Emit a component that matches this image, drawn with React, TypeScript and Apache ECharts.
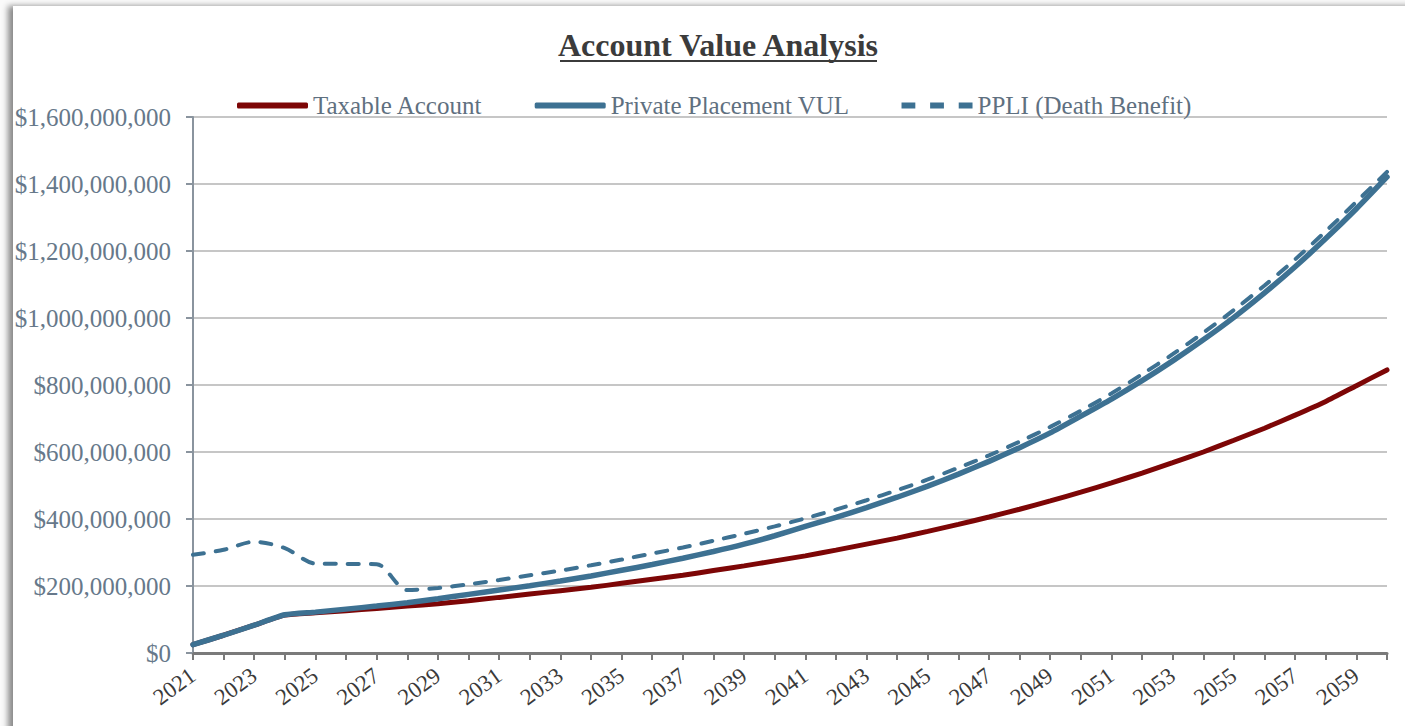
import React, { useEffect, useRef } from "react";
import * as echarts from "echarts";

const years = [
  "2021", "2022", "2023", "2024", "2025", "2026", "2027", "2028", "2029", "2030",
  "2031", "2032", "2033", "2034", "2035", "2036", "2037", "2038", "2039", "2040",
  "2041", "2042", "2043", "2044", "2045", "2046", "2047", "2048", "2049", "2050",
  "2051", "2052", "2053", "2054", "2055", "2056", "2057", "2058", "2059", "2060",
];

// values in $ millions
const taxableAccount = [
  25, 53, 83, 113, 120, 126, 133, 140, 147, 156,
  166, 176, 186, 196, 208, 220, 232, 246, 260, 275,
  290, 307, 325, 343, 363, 384, 406, 429, 454, 480,
  508, 537, 568, 600, 635, 671, 710, 751, 798, 845,
];

const privatePlacementVUL = [
  25, 53, 83, 114, 122, 131, 140, 150, 162, 175,
  188, 201, 215, 230, 247, 264, 283, 303, 325, 350,
  378, 405, 434, 465, 498, 534, 572, 613, 657, 707,
  758, 813, 872, 935, 1002, 1075, 1153, 1237, 1326, 1421,
];

const ppliDeathBenefit = [
  293, 308, 332, 313, 267, 266, 265, 188, 194, 205,
  218, 232, 246, 262, 279, 297, 315, 335, 356, 378,
  402, 428, 456, 486, 518, 553, 590, 631, 675, 723,
  775, 832, 892, 956, 1024, 1097, 1175, 1259, 1347, 1436,
];

const seriesNames = ["Taxable Account", "Private Placement VUL", "PPLI (Death Benefit)"];
const chartTitle = "Account Value Analysis";

const SERIF = "'Liberation Serif', 'DejaVu Serif', serif";
const RED = "#7d0606";
const BLUE = "#3d7192";
const DASH_ICON = "path://M0,0h14v6h-14z M29,0h14v6h-14z M58,0h14v6h-14z";

function fmtDollar(v: number): string {
  return "$" + Math.round(v).toLocaleString("en-US");
}

export default function App() {
  const ref = useRef<HTMLDivElement>(null);

  useEffect(() => {
    document.body.style.margin = "0";
    const chart = echarts.init(ref.current!, null, { renderer: "svg" });
    const toDollars = (arr: number[]) => arr.map((v) => v * 1e6);
    chart.setOption({
      animation: false,
      backgroundColor: "transparent",
      graphic: [
        {
          type: "text",
          x: 718,
          y: 45,
          style: {
            text: chartTitle,
            textAlign: "center",
            textVerticalAlign: "middle",
            fontFamily: SERIF,
            fontWeight: "bold",
            fontSize: 32,
            fill: "#3b3b3b",
          },
        },
        {
          type: "line",
          shape: { x1: 560, y1: 61, x2: 877, y2: 61 },
          style: { stroke: "#3b3b3b", lineWidth: 2 },
        },
      ],
      legend: {
        top: 88,
        left: 232,
        itemWidth: 71,
        itemHeight: 6,
        itemGap: 52,
        textStyle: { fontFamily: SERIF, fontSize: 25, color: "#5f7080", padding: [0, 0, 0, 0] },
        data: [
          { name: seriesNames[0], icon: "roundRect", itemStyle: { color: RED } },
          { name: seriesNames[1], icon: "roundRect", itemStyle: { color: BLUE } },
          { name: seriesNames[2], icon: DASH_ICON, itemStyle: { color: BLUE } },
        ],
      },
      grid: { left: 193, right: 18, top: 117, bottom: 73 },
      xAxis: {
        type: "category",
        data: years,
        boundaryGap: false,
        axisLine: { lineStyle: { color: "#7a7a7a", width: 3 } },
        axisTick: { show: true, interval: 0, length: 7, lineStyle: { color: "#7a7a7a", width: 2 } },
        axisLabel: {
          interval: 1,
          rotate: 36,
          margin: 20,
          fontFamily: SERIF,
          fontSize: 23,
          color: "#3a3a3a",
        },
        splitLine: { show: false },
      },
      yAxis: {
        type: "value",
        min: 0,
        max: 1600000000,
        interval: 200000000,
        axisLine: { show: true, lineStyle: { color: "#8a949e", width: 2 } },
        axisTick: { show: true, length: 7, lineStyle: { color: "#8a949e", width: 2 } },
        axisLabel: {
          margin: 22,
          fontFamily: SERIF,
          fontSize: 25,
          color: "#66788a",
          formatter: (v: number) => fmtDollar(v),
        },
        splitLine: { lineStyle: { color: "#c6c6c6", width: 2 } },
      },
      series: [
        {
          name: seriesNames[0],
          type: "line",
          data: toDollars(taxableAccount),
          symbol: "none",
          smooth: 0.2,
          lineStyle: { color: RED, width: 5, cap: "round" },
          itemStyle: { color: RED },
          z: 2,
        },
        {
          name: seriesNames[1],
          type: "line",
          data: toDollars(privatePlacementVUL),
          symbol: "none",
          smooth: 0.2,
          lineStyle: { color: BLUE, width: 5.5, cap: "round" },
          itemStyle: { color: BLUE },
          z: 3,
        },
        {
          name: seriesNames[2],
          type: "line",
          data: toDollars(ppliDeathBenefit),
          symbol: "none",
          smooth: 0.3,
          lineStyle: { color: BLUE, width: 4, type: [11, 12], cap: "round" },
          itemStyle: { color: BLUE },
          z: 4,
        },
      ],
    });
    return () => chart.dispose();
  }, []);

  return (
    <div style={{ position: "relative", width: 1405, height: 726, overflow: "hidden", background: "#fafafa" }}>
      <div
        style={{
          position: "absolute",
          left: 13,
          top: 6,
          width: 1420,
          height: 740,
          background: "#ffffff",
          boxShadow: "-5px 0px 6px rgba(0,0,0,0.45)",
        }}
      />
      <div ref={ref} style={{ position: "absolute", left: 0, top: 0, width: 1405, height: 726 }} />
    </div>
  );
}
